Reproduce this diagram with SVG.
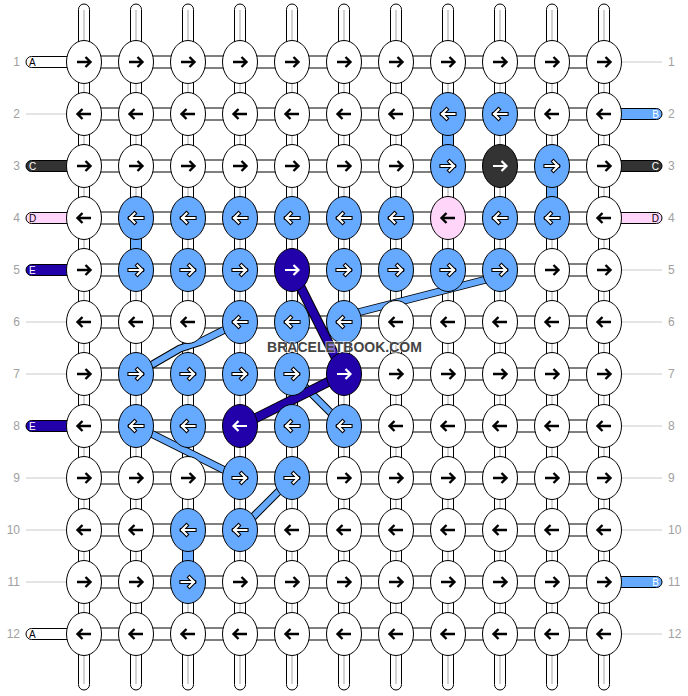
<svg xmlns="http://www.w3.org/2000/svg" xmlns:xlink="http://www.w3.org/1999/xlink" width="688" height="696" viewBox="0 0 688 696">
<style>
.str{fill:#fff;stroke:#000;stroke-width:1}
.core{stroke:#c4c4c4;stroke-width:1.5}
.bc{fill:#66aaff;stroke:#000;stroke-width:1}
.w{fill:#fff;stroke:#000;stroke-width:1}
.lb{fill:#66aaff;stroke:#000;stroke-width:1}
.db{fill:#2200aa;stroke:#000;stroke-width:1}
.bk{fill:#333333;stroke:#000;stroke-width:1}
.pk{fill:#ffd6fa;stroke:#000;stroke-width:1}
.ak{fill:none;stroke:#000;stroke-width:2.4}
.aw{fill:none;stroke:#fff;stroke-width:2.2}
.ao{fill:none;stroke:#000;stroke-width:4.2;stroke-linecap:square}
.aws{fill:none;stroke:#fff;stroke-width:2.1;stroke-linecap:square}
.bo{fill:none;stroke:#000;stroke-width:8;stroke-linejoin:round}
.bl{fill:none;stroke:#66aaff;stroke-width:6;stroke-linejoin:round}
.dbo{fill:none;stroke:#000;stroke-width:10;stroke-linejoin:round}
.dbl{fill:none;stroke:#2200aa;stroke-width:8;stroke-linejoin:round}
.num{font-family:"Liberation Sans",Arial,sans-serif;font-size:12px;fill:#a0a0a0}
.let{font-family:"Liberation Sans",Arial,sans-serif;font-size:10px}
.gl{stroke:#c8c8c8;stroke-width:1}
.wm{font-family:"Liberation Sans",Arial,sans-serif;font-size:14px;font-weight:bold;fill:#444;stroke:#fff;stroke-opacity:0.55;stroke-width:2;paint-order:stroke}
</style>
<defs>
<path id="Rk" class="ak" d="M-7,0H6M1.5,-5L6.5,0L1.5,5"/>
<path id="Lk" class="ak" d="M7,0H-6M-1.5,-5L-6.5,0L-1.5,5"/>
<path id="Rw" class="aw" d="M-7,0H6M1.5,-5L6.5,0L1.5,5"/>
<path id="Lw" class="aw" d="M7,0H-6M-1.5,-5L-6.5,0L-1.5,5"/>
<g id="Ro"><path class="ao" d="M-6.5,0H6M1.5,-4.5L6,0L1.5,4.5"/><path class="aws" d="M-6.5,0H6M1.5,-4.5L6,0L1.5,4.5"/></g>
<g id="Lo"><path class="ao" d="M6.5,0H-6M-1.5,-4.5L-6,0L-1.5,4.5"/><path class="aws" d="M6.5,0H-6M-1.5,-4.5L-6,0L-1.5,4.5"/></g>
</defs>
<rect width="688" height="696" fill="#fff"/>
<g id="connectors">
<g id="vertical-strings">
<rect class="str" x="78.5" y="4" width="11" height="686" rx="5.5"/>
<rect class="str" x="130.5" y="4" width="11" height="686" rx="5.5"/>
<rect class="str" x="182.5" y="4" width="11" height="686" rx="5.5"/>
<rect class="str" x="234.5" y="4" width="11" height="686" rx="5.5"/>
<rect class="str" x="286.5" y="4" width="11" height="686" rx="5.5"/>
<rect class="str" x="338.5" y="4" width="11" height="686" rx="5.5"/>
<rect class="str" x="390.5" y="4" width="11" height="686" rx="5.5"/>
<rect class="str" x="442.5" y="4" width="11" height="686" rx="5.5"/>
<rect class="str" x="494.5" y="4" width="11" height="686" rx="5.5"/>
<rect class="str" x="546.5" y="4" width="11" height="686" rx="5.5"/>
<rect class="str" x="598.5" y="4" width="11" height="686" rx="5.5"/>
<path class="core" d="M84,10V684M136,10V684M188,10V684M240,10V684M292,10V684M344,10V684M396,10V684M448,10V684M500,10V684M552,10V684M604,10V684"/>
</g>
<g id="horizontal-strings">
<rect class="str" x="84" y="56" width="520" height="12"/>
<rect class="str" x="84" y="108" width="520" height="12"/>
<rect class="str" x="84" y="160" width="520" height="12"/>
<rect class="str" x="84" y="212" width="520" height="12"/>
<rect class="str" x="84" y="264" width="520" height="12"/>
<rect class="str" x="84" y="316" width="520" height="12"/>
<rect class="str" x="84" y="368" width="520" height="12"/>
<rect class="str" x="84" y="420" width="520" height="12"/>
<rect class="str" x="84" y="472" width="520" height="12"/>
<rect class="str" x="84" y="524" width="520" height="12"/>
<rect class="str" x="84" y="576" width="520" height="12"/>
<rect class="str" x="84" y="628" width="520" height="12"/>
</g>
<g id="colored-links">
<rect class="bc" x="442.5" y="130" width="11" height="20"/>
<rect class="bc" x="546.5" y="182" width="11" height="20"/>
<rect class="bc" x="130.5" y="234" width="11" height="20"/>
<rect class="bc" x="182.5" y="546" width="11" height="20"/>
</g>
<g id="side-strings">
<rect class="w" x="26" y="56.5" width="50" height="11" rx="5.5"/>
<rect class="bk" x="26" y="160.5" width="50" height="11" rx="5.5"/>
<rect class="pk" x="26" y="212.5" width="50" height="11" rx="5.5"/>
<rect class="db" x="26" y="264.5" width="50" height="11" rx="5.5"/>
<rect class="db" x="26" y="420.5" width="50" height="11" rx="5.5"/>
<rect class="w" x="26" y="628.5" width="50" height="11" rx="5.5"/>
<rect class="lb" x="612" y="108.5" width="50" height="11" rx="5.5"/>
<rect class="bk" x="612" y="160.5" width="50" height="11" rx="5.5"/>
<rect class="pk" x="612" y="212.5" width="50" height="11" rx="5.5"/>
<rect class="lb" x="612" y="576.5" width="50" height="11" rx="5.5"/>
<path class="gl" d="M26,114H67M26,322H67M26,374H67M26,478H67M26,530H67M26,582H67"/>
<path class="gl" d="M621,62H662M621,270H662M621,322H662M621,374H662M621,426H662M621,478H662M621,530H662M621,634H662"/>
</g>
<g id="bands">
<path class="bo" d="M500,276L344,316"/><path class="bl" d="M500,276L344,316"/>
<path class="bo" d="M240,322L200,342L180,348.5L136,374"/><path class="bl" d="M240,322L200,342L180,348.5L136,374"/>
<path class="bo" d="M136,426L240,478"/><path class="bl" d="M136,426L240,478"/>
<path class="bo" d="M292,478L240,530"/><path class="bl" d="M292,478L240,530"/>
<path class="bo" d="M292,374L344,426"/><path class="bl" d="M292,374L344,426"/>
<path class="dbo" d="M292,270L344,374"/><path class="dbl" d="M292,270L344,374"/>
<path class="dbo" d="M344,374L240,426"/><path class="dbl" d="M344,374L240,426"/>
</g>
</g>
<g id="knots">
<g id="k1-1"><ellipse class="w" cx="84" cy="62" rx="17.5" ry="21.5"/><use href="#Rk" x="84" y="62"/></g>
<g id="k1-2"><ellipse class="w" cx="136" cy="62" rx="17.5" ry="21.5"/><use href="#Rk" x="136" y="62"/></g>
<g id="k1-3"><ellipse class="w" cx="188" cy="62" rx="17.5" ry="21.5"/><use href="#Rk" x="188" y="62"/></g>
<g id="k1-4"><ellipse class="w" cx="240" cy="62" rx="17.5" ry="21.5"/><use href="#Rk" x="240" y="62"/></g>
<g id="k1-5"><ellipse class="w" cx="292" cy="62" rx="17.5" ry="21.5"/><use href="#Rk" x="292" y="62"/></g>
<g id="k1-6"><ellipse class="w" cx="344" cy="62" rx="17.5" ry="21.5"/><use href="#Rk" x="344" y="62"/></g>
<g id="k1-7"><ellipse class="w" cx="396" cy="62" rx="17.5" ry="21.5"/><use href="#Rk" x="396" y="62"/></g>
<g id="k1-8"><ellipse class="w" cx="448" cy="62" rx="17.5" ry="21.5"/><use href="#Rk" x="448" y="62"/></g>
<g id="k1-9"><ellipse class="w" cx="500" cy="62" rx="17.5" ry="21.5"/><use href="#Rk" x="500" y="62"/></g>
<g id="k1-10"><ellipse class="w" cx="552" cy="62" rx="17.5" ry="21.5"/><use href="#Rk" x="552" y="62"/></g>
<g id="k1-11"><ellipse class="w" cx="604" cy="62" rx="17.5" ry="21.5"/><use href="#Rk" x="604" y="62"/></g>

<g id="k2-1"><ellipse class="w" cx="84" cy="114" rx="17.5" ry="21.5"/><use href="#Lk" x="84" y="114"/></g>
<g id="k2-2"><ellipse class="w" cx="136" cy="114" rx="17.5" ry="21.5"/><use href="#Lk" x="136" y="114"/></g>
<g id="k2-3"><ellipse class="w" cx="188" cy="114" rx="17.5" ry="21.5"/><use href="#Lk" x="188" y="114"/></g>
<g id="k2-4"><ellipse class="w" cx="240" cy="114" rx="17.5" ry="21.5"/><use href="#Lk" x="240" y="114"/></g>
<g id="k2-5"><ellipse class="w" cx="292" cy="114" rx="17.5" ry="21.5"/><use href="#Lk" x="292" y="114"/></g>
<g id="k2-6"><ellipse class="w" cx="344" cy="114" rx="17.5" ry="21.5"/><use href="#Lk" x="344" y="114"/></g>
<g id="k2-7"><ellipse class="w" cx="396" cy="114" rx="17.5" ry="21.5"/><use href="#Lk" x="396" y="114"/></g>
<g id="k2-8"><ellipse class="lb" cx="448" cy="114" rx="17.5" ry="21.5"/><use href="#Lo" x="448" y="114"/></g>
<g id="k2-9"><ellipse class="lb" cx="500" cy="114" rx="17.5" ry="21.5"/><use href="#Lo" x="500" y="114"/></g>
<g id="k2-10"><ellipse class="w" cx="552" cy="114" rx="17.5" ry="21.5"/><use href="#Lk" x="552" y="114"/></g>
<g id="k2-11"><ellipse class="w" cx="604" cy="114" rx="17.5" ry="21.5"/><use href="#Lk" x="604" y="114"/></g>

<g id="k3-1"><ellipse class="w" cx="84" cy="166" rx="17.5" ry="21.5"/><use href="#Rk" x="84" y="166"/></g>
<g id="k3-2"><ellipse class="w" cx="136" cy="166" rx="17.5" ry="21.5"/><use href="#Rk" x="136" y="166"/></g>
<g id="k3-3"><ellipse class="w" cx="188" cy="166" rx="17.5" ry="21.5"/><use href="#Rk" x="188" y="166"/></g>
<g id="k3-4"><ellipse class="w" cx="240" cy="166" rx="17.5" ry="21.5"/><use href="#Rk" x="240" y="166"/></g>
<g id="k3-5"><ellipse class="w" cx="292" cy="166" rx="17.5" ry="21.5"/><use href="#Rk" x="292" y="166"/></g>
<g id="k3-6"><ellipse class="w" cx="344" cy="166" rx="17.5" ry="21.5"/><use href="#Rk" x="344" y="166"/></g>
<g id="k3-7"><ellipse class="w" cx="396" cy="166" rx="17.5" ry="21.5"/><use href="#Rk" x="396" y="166"/></g>
<g id="k3-8"><ellipse class="lb" cx="448" cy="166" rx="17.5" ry="21.5"/><use href="#Ro" x="448" y="166"/></g>
<g id="k3-9"><ellipse class="bk" cx="500" cy="166" rx="17.5" ry="21.5"/><use href="#Rw" x="500" y="166"/></g>
<g id="k3-10"><ellipse class="lb" cx="552" cy="166" rx="17.5" ry="21.5"/><use href="#Ro" x="552" y="166"/></g>
<g id="k3-11"><ellipse class="w" cx="604" cy="166" rx="17.5" ry="21.5"/><use href="#Rk" x="604" y="166"/></g>

<g id="k4-1"><ellipse class="w" cx="84" cy="218" rx="17.5" ry="21.5"/><use href="#Lk" x="84" y="218"/></g>
<g id="k4-2"><ellipse class="lb" cx="136" cy="218" rx="17.5" ry="21.5"/><use href="#Lo" x="136" y="218"/></g>
<g id="k4-3"><ellipse class="lb" cx="188" cy="218" rx="17.5" ry="21.5"/><use href="#Lo" x="188" y="218"/></g>
<g id="k4-4"><ellipse class="lb" cx="240" cy="218" rx="17.5" ry="21.5"/><use href="#Lo" x="240" y="218"/></g>
<g id="k4-5"><ellipse class="lb" cx="292" cy="218" rx="17.5" ry="21.5"/><use href="#Lo" x="292" y="218"/></g>
<g id="k4-6"><ellipse class="lb" cx="344" cy="218" rx="17.5" ry="21.5"/><use href="#Lo" x="344" y="218"/></g>
<g id="k4-7"><ellipse class="lb" cx="396" cy="218" rx="17.5" ry="21.5"/><use href="#Lo" x="396" y="218"/></g>
<g id="k4-8"><ellipse class="pk" cx="448" cy="218" rx="17.5" ry="21.5"/><use href="#Lk" x="448" y="218"/></g>
<g id="k4-9"><ellipse class="lb" cx="500" cy="218" rx="17.5" ry="21.5"/><use href="#Lo" x="500" y="218"/></g>
<g id="k4-10"><ellipse class="lb" cx="552" cy="218" rx="17.5" ry="21.5"/><use href="#Lo" x="552" y="218"/></g>
<g id="k4-11"><ellipse class="w" cx="604" cy="218" rx="17.5" ry="21.5"/><use href="#Lk" x="604" y="218"/></g>

<g id="k5-1"><ellipse class="w" cx="84" cy="270" rx="17.5" ry="21.5"/><use href="#Rk" x="84" y="270"/></g>
<g id="k5-2"><ellipse class="lb" cx="136" cy="270" rx="17.5" ry="21.5"/><use href="#Ro" x="136" y="270"/></g>
<g id="k5-3"><ellipse class="lb" cx="188" cy="270" rx="17.5" ry="21.5"/><use href="#Ro" x="188" y="270"/></g>
<g id="k5-4"><ellipse class="lb" cx="240" cy="270" rx="17.5" ry="21.5"/><use href="#Ro" x="240" y="270"/></g>
<g id="k5-5"><ellipse class="db" cx="292" cy="270" rx="17.5" ry="21.5"/><use href="#Rw" x="292" y="270"/></g>
<g id="k5-6"><ellipse class="lb" cx="344" cy="270" rx="17.5" ry="21.5"/><use href="#Ro" x="344" y="270"/></g>
<g id="k5-7"><ellipse class="lb" cx="396" cy="270" rx="17.5" ry="21.5"/><use href="#Ro" x="396" y="270"/></g>
<g id="k5-8"><ellipse class="lb" cx="448" cy="270" rx="17.5" ry="21.5"/><use href="#Ro" x="448" y="270"/></g>
<g id="k5-9"><ellipse class="lb" cx="500" cy="270" rx="17.5" ry="21.5"/><use href="#Ro" x="500" y="270"/></g>
<g id="k5-10"><ellipse class="w" cx="552" cy="270" rx="17.5" ry="21.5"/><use href="#Rk" x="552" y="270"/></g>
<g id="k5-11"><ellipse class="w" cx="604" cy="270" rx="17.5" ry="21.5"/><use href="#Rk" x="604" y="270"/></g>

<g id="k6-1"><ellipse class="w" cx="84" cy="322" rx="17.5" ry="21.5"/><use href="#Lk" x="84" y="322"/></g>
<g id="k6-2"><ellipse class="w" cx="136" cy="322" rx="17.5" ry="21.5"/><use href="#Lk" x="136" y="322"/></g>
<g id="k6-3"><ellipse class="w" cx="188" cy="322" rx="17.5" ry="21.5"/><use href="#Lk" x="188" y="322"/></g>
<g id="k6-4"><ellipse class="lb" cx="240" cy="322" rx="17.5" ry="21.5"/><use href="#Lo" x="240" y="322"/></g>
<g id="k6-5"><ellipse class="lb" cx="292" cy="322" rx="17.5" ry="21.5"/><use href="#Lo" x="292" y="322"/></g>
<g id="k6-6"><ellipse class="lb" cx="344" cy="322" rx="17.5" ry="21.5"/><use href="#Lo" x="344" y="322"/></g>
<g id="k6-7"><ellipse class="w" cx="396" cy="322" rx="17.5" ry="21.5"/><use href="#Lk" x="396" y="322"/></g>
<g id="k6-8"><ellipse class="w" cx="448" cy="322" rx="17.5" ry="21.5"/><use href="#Lk" x="448" y="322"/></g>
<g id="k6-9"><ellipse class="w" cx="500" cy="322" rx="17.5" ry="21.5"/><use href="#Lk" x="500" y="322"/></g>
<g id="k6-10"><ellipse class="w" cx="552" cy="322" rx="17.5" ry="21.5"/><use href="#Lk" x="552" y="322"/></g>
<g id="k6-11"><ellipse class="w" cx="604" cy="322" rx="17.5" ry="21.5"/><use href="#Lk" x="604" y="322"/></g>

<g id="k7-1"><ellipse class="w" cx="84" cy="374" rx="17.5" ry="21.5"/><use href="#Rk" x="84" y="374"/></g>
<g id="k7-2"><ellipse class="lb" cx="136" cy="374" rx="17.5" ry="21.5"/><use href="#Ro" x="136" y="374"/></g>
<g id="k7-3"><ellipse class="lb" cx="188" cy="374" rx="17.5" ry="21.5"/><use href="#Ro" x="188" y="374"/></g>
<g id="k7-4"><ellipse class="lb" cx="240" cy="374" rx="17.5" ry="21.5"/><use href="#Ro" x="240" y="374"/></g>
<g id="k7-5"><ellipse class="lb" cx="292" cy="374" rx="17.5" ry="21.5"/><use href="#Ro" x="292" y="374"/></g>
<g id="k7-6"><ellipse class="db" cx="344" cy="374" rx="17.5" ry="21.5"/><use href="#Rw" x="344" y="374"/></g>
<g id="k7-7"><ellipse class="w" cx="396" cy="374" rx="17.5" ry="21.5"/><use href="#Rk" x="396" y="374"/></g>
<g id="k7-8"><ellipse class="w" cx="448" cy="374" rx="17.5" ry="21.5"/><use href="#Rk" x="448" y="374"/></g>
<g id="k7-9"><ellipse class="w" cx="500" cy="374" rx="17.5" ry="21.5"/><use href="#Rk" x="500" y="374"/></g>
<g id="k7-10"><ellipse class="w" cx="552" cy="374" rx="17.5" ry="21.5"/><use href="#Rk" x="552" y="374"/></g>
<g id="k7-11"><ellipse class="w" cx="604" cy="374" rx="17.5" ry="21.5"/><use href="#Rk" x="604" y="374"/></g>

<g id="k8-1"><ellipse class="w" cx="84" cy="426" rx="17.5" ry="21.5"/><use href="#Lk" x="84" y="426"/></g>
<g id="k8-2"><ellipse class="lb" cx="136" cy="426" rx="17.5" ry="21.5"/><use href="#Lo" x="136" y="426"/></g>
<g id="k8-3"><ellipse class="lb" cx="188" cy="426" rx="17.5" ry="21.5"/><use href="#Lo" x="188" y="426"/></g>
<g id="k8-4"><ellipse class="db" cx="240" cy="426" rx="17.5" ry="21.5"/><use href="#Lw" x="240" y="426"/></g>
<g id="k8-5"><ellipse class="lb" cx="292" cy="426" rx="17.5" ry="21.5"/><use href="#Lo" x="292" y="426"/></g>
<g id="k8-6"><ellipse class="lb" cx="344" cy="426" rx="17.5" ry="21.5"/><use href="#Lo" x="344" y="426"/></g>
<g id="k8-7"><ellipse class="w" cx="396" cy="426" rx="17.5" ry="21.5"/><use href="#Lk" x="396" y="426"/></g>
<g id="k8-8"><ellipse class="w" cx="448" cy="426" rx="17.5" ry="21.5"/><use href="#Lk" x="448" y="426"/></g>
<g id="k8-9"><ellipse class="w" cx="500" cy="426" rx="17.5" ry="21.5"/><use href="#Lk" x="500" y="426"/></g>
<g id="k8-10"><ellipse class="w" cx="552" cy="426" rx="17.5" ry="21.5"/><use href="#Lk" x="552" y="426"/></g>
<g id="k8-11"><ellipse class="w" cx="604" cy="426" rx="17.5" ry="21.5"/><use href="#Lk" x="604" y="426"/></g>

<g id="k9-1"><ellipse class="w" cx="84" cy="478" rx="17.5" ry="21.5"/><use href="#Rk" x="84" y="478"/></g>
<g id="k9-2"><ellipse class="w" cx="136" cy="478" rx="17.5" ry="21.5"/><use href="#Rk" x="136" y="478"/></g>
<g id="k9-3"><ellipse class="w" cx="188" cy="478" rx="17.5" ry="21.5"/><use href="#Rk" x="188" y="478"/></g>
<g id="k9-4"><ellipse class="lb" cx="240" cy="478" rx="17.5" ry="21.5"/><use href="#Ro" x="240" y="478"/></g>
<g id="k9-5"><ellipse class="lb" cx="292" cy="478" rx="17.5" ry="21.5"/><use href="#Ro" x="292" y="478"/></g>
<g id="k9-6"><ellipse class="w" cx="344" cy="478" rx="17.5" ry="21.5"/><use href="#Rk" x="344" y="478"/></g>
<g id="k9-7"><ellipse class="w" cx="396" cy="478" rx="17.5" ry="21.5"/><use href="#Rk" x="396" y="478"/></g>
<g id="k9-8"><ellipse class="w" cx="448" cy="478" rx="17.5" ry="21.5"/><use href="#Rk" x="448" y="478"/></g>
<g id="k9-9"><ellipse class="w" cx="500" cy="478" rx="17.5" ry="21.5"/><use href="#Rk" x="500" y="478"/></g>
<g id="k9-10"><ellipse class="w" cx="552" cy="478" rx="17.5" ry="21.5"/><use href="#Rk" x="552" y="478"/></g>
<g id="k9-11"><ellipse class="w" cx="604" cy="478" rx="17.5" ry="21.5"/><use href="#Rk" x="604" y="478"/></g>

<g id="k10-1"><ellipse class="w" cx="84" cy="530" rx="17.5" ry="21.5"/><use href="#Lk" x="84" y="530"/></g>
<g id="k10-2"><ellipse class="w" cx="136" cy="530" rx="17.5" ry="21.5"/><use href="#Lk" x="136" y="530"/></g>
<g id="k10-3"><ellipse class="lb" cx="188" cy="530" rx="17.5" ry="21.5"/><use href="#Lo" x="188" y="530"/></g>
<g id="k10-4"><ellipse class="lb" cx="240" cy="530" rx="17.5" ry="21.5"/><use href="#Lo" x="240" y="530"/></g>
<g id="k10-5"><ellipse class="w" cx="292" cy="530" rx="17.5" ry="21.5"/><use href="#Lk" x="292" y="530"/></g>
<g id="k10-6"><ellipse class="w" cx="344" cy="530" rx="17.5" ry="21.5"/><use href="#Lk" x="344" y="530"/></g>
<g id="k10-7"><ellipse class="w" cx="396" cy="530" rx="17.5" ry="21.5"/><use href="#Lk" x="396" y="530"/></g>
<g id="k10-8"><ellipse class="w" cx="448" cy="530" rx="17.5" ry="21.5"/><use href="#Lk" x="448" y="530"/></g>
<g id="k10-9"><ellipse class="w" cx="500" cy="530" rx="17.5" ry="21.5"/><use href="#Lk" x="500" y="530"/></g>
<g id="k10-10"><ellipse class="w" cx="552" cy="530" rx="17.5" ry="21.5"/><use href="#Lk" x="552" y="530"/></g>
<g id="k10-11"><ellipse class="w" cx="604" cy="530" rx="17.5" ry="21.5"/><use href="#Lk" x="604" y="530"/></g>

<g id="k11-1"><ellipse class="w" cx="84" cy="582" rx="17.5" ry="21.5"/><use href="#Rk" x="84" y="582"/></g>
<g id="k11-2"><ellipse class="w" cx="136" cy="582" rx="17.5" ry="21.5"/><use href="#Rk" x="136" y="582"/></g>
<g id="k11-3"><ellipse class="lb" cx="188" cy="582" rx="17.5" ry="21.5"/><use href="#Ro" x="188" y="582"/></g>
<g id="k11-4"><ellipse class="w" cx="240" cy="582" rx="17.5" ry="21.5"/><use href="#Rk" x="240" y="582"/></g>
<g id="k11-5"><ellipse class="w" cx="292" cy="582" rx="17.5" ry="21.5"/><use href="#Rk" x="292" y="582"/></g>
<g id="k11-6"><ellipse class="w" cx="344" cy="582" rx="17.5" ry="21.5"/><use href="#Rk" x="344" y="582"/></g>
<g id="k11-7"><ellipse class="w" cx="396" cy="582" rx="17.5" ry="21.5"/><use href="#Rk" x="396" y="582"/></g>
<g id="k11-8"><ellipse class="w" cx="448" cy="582" rx="17.5" ry="21.5"/><use href="#Rk" x="448" y="582"/></g>
<g id="k11-9"><ellipse class="w" cx="500" cy="582" rx="17.5" ry="21.5"/><use href="#Rk" x="500" y="582"/></g>
<g id="k11-10"><ellipse class="w" cx="552" cy="582" rx="17.5" ry="21.5"/><use href="#Rk" x="552" y="582"/></g>
<g id="k11-11"><ellipse class="w" cx="604" cy="582" rx="17.5" ry="21.5"/><use href="#Rk" x="604" y="582"/></g>

<g id="k12-1"><ellipse class="w" cx="84" cy="634" rx="17.5" ry="21.5"/><use href="#Lk" x="84" y="634"/></g>
<g id="k12-2"><ellipse class="w" cx="136" cy="634" rx="17.5" ry="21.5"/><use href="#Lk" x="136" y="634"/></g>
<g id="k12-3"><ellipse class="w" cx="188" cy="634" rx="17.5" ry="21.5"/><use href="#Lk" x="188" y="634"/></g>
<g id="k12-4"><ellipse class="w" cx="240" cy="634" rx="17.5" ry="21.5"/><use href="#Lk" x="240" y="634"/></g>
<g id="k12-5"><ellipse class="w" cx="292" cy="634" rx="17.5" ry="21.5"/><use href="#Lk" x="292" y="634"/></g>
<g id="k12-6"><ellipse class="w" cx="344" cy="634" rx="17.5" ry="21.5"/><use href="#Lk" x="344" y="634"/></g>
<g id="k12-7"><ellipse class="w" cx="396" cy="634" rx="17.5" ry="21.5"/><use href="#Lk" x="396" y="634"/></g>
<g id="k12-8"><ellipse class="w" cx="448" cy="634" rx="17.5" ry="21.5"/><use href="#Lk" x="448" y="634"/></g>
<g id="k12-9"><ellipse class="w" cx="500" cy="634" rx="17.5" ry="21.5"/><use href="#Lk" x="500" y="634"/></g>
<g id="k12-10"><ellipse class="w" cx="552" cy="634" rx="17.5" ry="21.5"/><use href="#Lk" x="552" y="634"/></g>
<g id="k12-11"><ellipse class="w" cx="604" cy="634" rx="17.5" ry="21.5"/><use href="#Lk" x="604" y="634"/></g>
</g>
<g id="string-letters">
<text class="let" x="29" y="65.5" fill="#000">A</text>
<text class="let" x="29" y="169.5" fill="#fff">C</text>
<text class="let" x="29" y="221.5" fill="#000">D</text>
<text class="let" x="29" y="273.5" fill="#fff">E</text>
<text class="let" x="29" y="429.5" fill="#fff">E</text>
<text class="let" x="29" y="637.5" fill="#000">A</text>
<text class="let" x="659" y="117.5" fill="#fff" text-anchor="end">B</text>
<text class="let" x="659" y="169.5" fill="#fff" text-anchor="end">C</text>
<text class="let" x="659" y="221.5" fill="#000" text-anchor="end">D</text>
<text class="let" x="659" y="585.5" fill="#fff" text-anchor="end">B</text>
</g>
<g id="row-numbers">
<text class="num" x="20" y="66" text-anchor="end">1</text>
<text class="num" x="20" y="118" text-anchor="end">2</text>
<text class="num" x="20" y="170" text-anchor="end">3</text>
<text class="num" x="20" y="222" text-anchor="end">4</text>
<text class="num" x="20" y="274" text-anchor="end">5</text>
<text class="num" x="20" y="326" text-anchor="end">6</text>
<text class="num" x="20" y="378" text-anchor="end">7</text>
<text class="num" x="20" y="430" text-anchor="end">8</text>
<text class="num" x="20" y="482" text-anchor="end">9</text>
<text class="num" x="20" y="534" text-anchor="end">10</text>
<text class="num" x="20" y="586" text-anchor="end">11</text>
<text class="num" x="20" y="638" text-anchor="end">12</text>
<text class="num" x="668" y="66">1</text>
<text class="num" x="668" y="118">2</text>
<text class="num" x="668" y="170">3</text>
<text class="num" x="668" y="222">4</text>
<text class="num" x="668" y="274">5</text>
<text class="num" x="668" y="326">6</text>
<text class="num" x="668" y="378">7</text>
<text class="num" x="668" y="430">8</text>
<text class="num" x="668" y="482">9</text>
<text class="num" x="668" y="534">10</text>
<text class="num" x="668" y="586">11</text>
<text class="num" x="668" y="638">12</text>
</g>
<text class="wm" x="344.5" y="352" text-anchor="middle">BRACELETBOOK.COM</text>
</svg>
